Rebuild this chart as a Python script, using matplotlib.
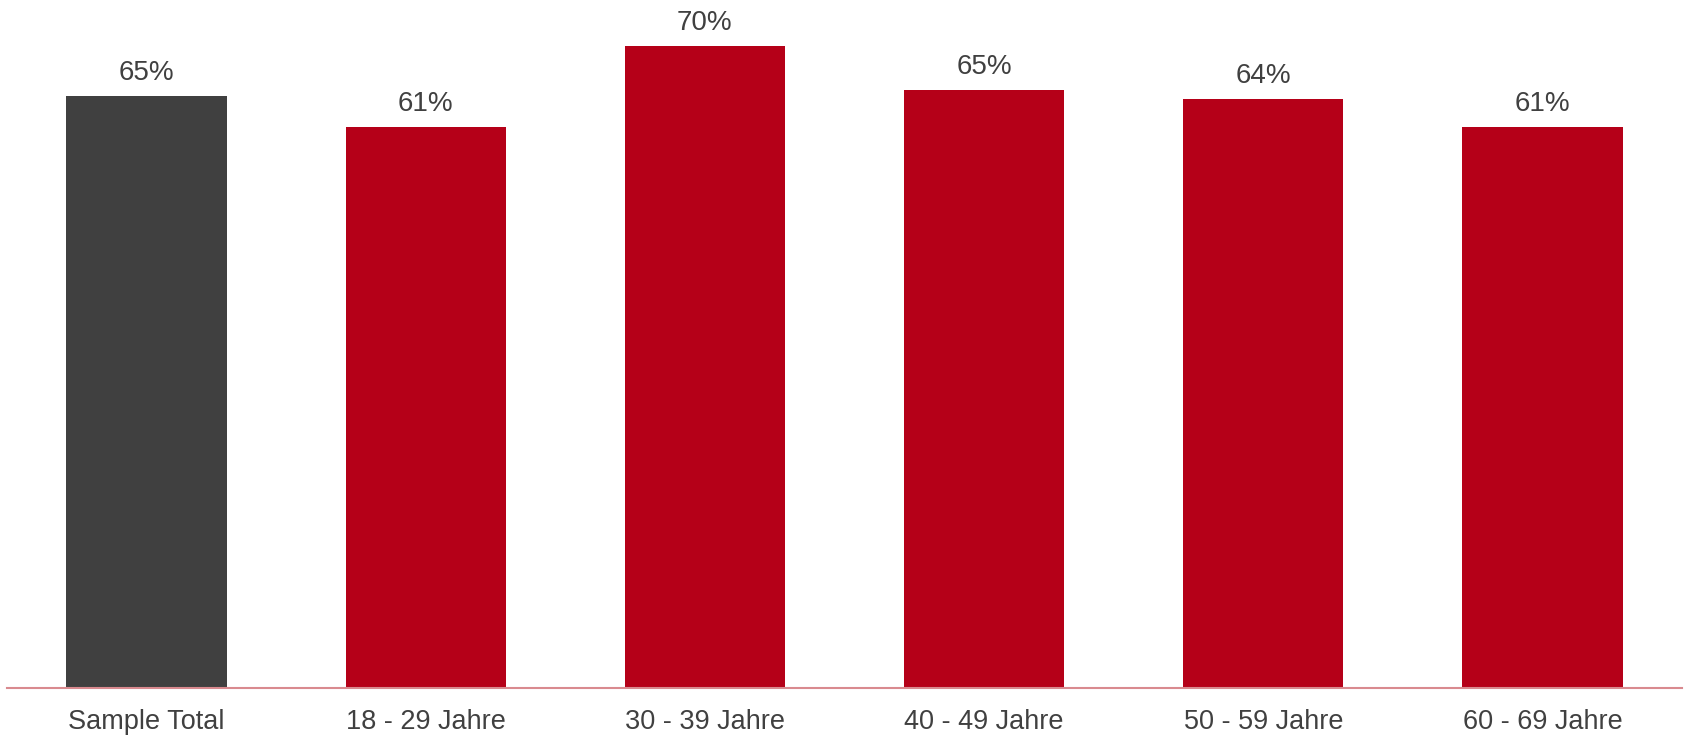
import matplotlib.pyplot as plt

plt.rcParams['font.family'] = ['Liberation Sans', 'DejaVu Sans']

categories = ['Sample Total', '18 - 29 Jahre', '30 - 39 Jahre', '40 - 49 Jahre', '50 - 59 Jahre', '60 - 69 Jahre']
values = [64.7, 61.3, 70.2, 65.4, 64.4, 61.3]
labels = ['65%', '61%', '70%', '65%', '64%', '61%']
colors = ['#404040', '#b50018', '#b50018', '#b50018', '#b50018', '#b50018']

fig = plt.figure(figsize=(16.85, 7.35), dpi=100)
ax = fig.add_axes([7 / 1685, 47 / 735, 1675 / 1685, 688 / 735])

x = range(len(categories))
bars = ax.bar(x, values, width=0.574, color=colors)

# value labels above bars
for bar, lab in zip(bars, labels):
    ax.annotate(lab, (bar.get_x() + bar.get_width() / 2, bar.get_height()),
                xytext=(0, 7), textcoords='offset points',
                ha='center', va='bottom', fontsize=20, color='#404040')

ax.set_xlim(-0.5, 5.5)
ax.set_ylim(0, 75.2)
ax.set_xticks(list(x))
ax.set_xticklabels(categories, fontsize=19.5, color='#404040')
ax.tick_params(axis='x', length=0, pad=15)
ax.set_yticks([])

for side in ['top', 'right', 'left']:
    ax.spines[side].set_visible(False)
ax.spines['bottom'].set_color('#d98a8f')
ax.spines['bottom'].set_linewidth(1.5)

fig.savefig('out.png', dpi=100)
